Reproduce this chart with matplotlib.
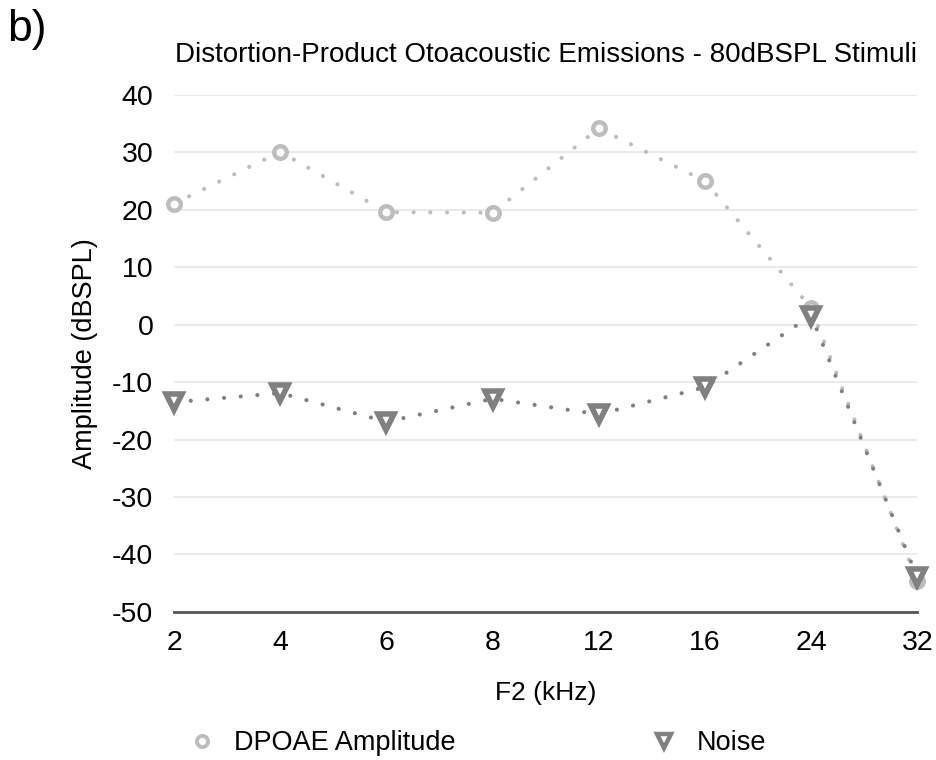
import matplotlib
matplotlib.use('Agg')
import matplotlib.pyplot as plt
import numpy as np

plt.rcParams['font.family'] = ['Liberation Sans', 'DejaVu Sans']
plt.rcParams['axes.unicode_minus'] = False

# F2 frequencies (kHz), evenly spaced categories
f2_labels = ['2', '4', '6', '8', '12', '16', '24', '32']
dpoae_amp = [21.1, 30.1, 19.6, 19.5, 34.2, 25.0, 2.9, -44.7]
noise_amp = [-13.5, -11.9, -16.9, -12.9, -15.6, -10.9, 1.6, -44.0]

C_DPOAE = '#bdbdbd'
C_NOISE = '#808080'

fig = plt.figure(figsize=(9.36, 7.6), dpi=100)
ax = fig.add_axes([0.186, 0.195, 0.794, 0.68])

x = np.arange(len(f2_labels))
dot = (0, (0.01, 4.0))

ax.plot(x, dpoae_amp, color=C_DPOAE, lw=3.0, ls=dot, dash_capstyle='round',
        marker='o', ms=9, mew=3.2, mfc='white', mec=C_DPOAE,
        label='DPOAE Amplitude', zorder=3)
ax.plot(x, noise_amp, color=C_NOISE, lw=3.0, ls=dot, dash_capstyle='round',
        marker='v', ms=12, mew=4.0, mfc='white', mec=C_NOISE,
        label='Noise', zorder=4)

ax.set_xlim(0, len(f2_labels) - 1)
ax.set_ylim(-50, 40)
ax.set_yticks(np.arange(-50, 41, 10))
ax.set_xticks(x)
ax.set_xticklabels(f2_labels)
ax.grid(axis='y', color='#e6e6e6', lw=1.2)
ax.set_axisbelow(True)
for s in ['top', 'right', 'left']:
    ax.spines[s].set_visible(False)
ax.spines['bottom'].set_color('#555555')
ax.spines['bottom'].set_linewidth(2.0)
ax.tick_params(length=0, labelsize=20.5, pad=13)
ax.tick_params(axis='y', pad=15)
for ln in ax.lines:
    ln.set_clip_on(False)

ax.set_xlabel('F2 (kHz)', fontsize=19, labelpad=18)
ax.set_ylabel('Amplitude (dBSPL)', fontsize=19.5, labelpad=10)
ax.set_title('Distortion-Product Otoacoustic Emissions - 80dBSPL Stimuli',
             fontsize=20, pad=24, x=0.5)
fig.text(0.008, 0.988, 'b)', fontsize=32, va='top', ha='left')

leg_handles = [
    plt.Line2D([], [], ls='none', marker='o', ms=8, mew=2.8, mfc='white', mec=C_DPOAE),
    plt.Line2D([], [], ls='none', marker='v', ms=10, mew=3.2, mfc='white', mec=C_NOISE),
]
fig.legend(leg_handles, ['DPOAE Amplitude', 'Noise'], loc='center',
           bbox_to_anchor=(0.51, 0.022), ncol=2, frameon=False, fontsize=19.5,
           columnspacing=7.2, handlelength=1.0, handletextpad=0.7)

fig.savefig('out.png', dpi=100)
